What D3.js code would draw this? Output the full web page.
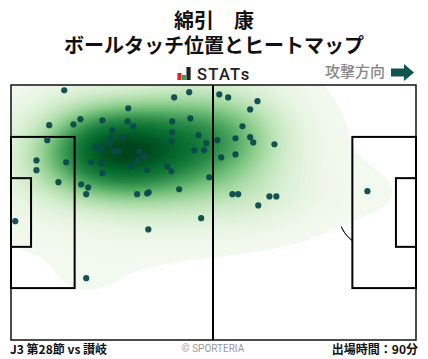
<!DOCTYPE html>
<html><head><meta charset="utf-8">
<script src="https://cdn.jsdelivr.net/npm/d3@7"></script>
<style>html,body{margin:0;padding:0;background:#fff}svg{display:block}text{font-family:"Noto Sans CJK JP",sans-serif}</style>
</head><body><div id="c"></div>
<script>
const touchX=[13.8,42.3,46.2,30.4,9.9,16.2,18.0,23.7,30.2,31.7,41.8,46.5,26.3,41.8,48.6,50.6,9.4,26.0,28.9,25.5,41.6,22.0,22.6,23.3,26.8,27.8,33.3,47.5,50.1,34.6,32.7,6.6,14.3,20.8,23.4,31.2,6.6,35.3,40.5,41.6,23.7,51.4,12.3,18.2,20.0,19.5,32.7,35.3,35.7,43.6,49.3,54.0,56.3,63.9,62.0,60.0,53.5,58.2,62.0,62.8,68.3,58.2,54.5,57.4,58.9,67.0,68.8,64.1,92.4,1.1,35.6,19.5];
const touchY=[1.4,3.3,1.9,6.2,10.7,10.5,9.1,9.4,9.7,11.0,9.7,8.9,12.1,12.6,13.4,15.5,14.7,14.1,13.9,15.5,15.0,16.3,16.9,16.9,17.7,17.7,17.7,17.4,17.4,19.3,20.3,20.1,20.6,20.6,20.9,21.7,22.7,22.7,21.7,23.0,23.5,24.6,25.9,26.5,27.3,29.1,29.1,28.9,28.6,27.8,35.5,2.5,3.3,4.3,6.5,11.0,14.7,14.2,13.9,15.3,15.8,18.5,19.3,29.1,29.1,29.7,29.7,32.1,28.3,36.3,38.5,51.5];
const titleLines=["綿引　康","ボールタッチ位置とヒートマップ"];
const statsBars=[{c:"#e8202a",h:7},{c:"#27a84a",h:5},{c:"#222",h:13}];
const attackLabel="攻撃方向", matchLabel="J3 第28節 vs 讃岐", creditLabel="© SPORTERIA", timeLabel="出場時間：90分";
const pitchLen=105,pitchWid=68,boxD=16.5,boxW=40.32,goalD=5.2,goalW=18.32,spot=11,circR=9.15;
const bwX=12,bwY=7.2,gridStep=0.5,nLevels=50,minLevel=0.04,colorGamma=1.3;

const W=428,H=359;
const svg=d3.select("#c").append("svg").attr("width",W).attr("height",H);
const x=d3.scaleLinear().domain([0,pitchLen]).range([11,416]);
const y=d3.scaleLinear().domain([0,pitchWid]).range([85,340]);

// title
svg.selectAll("text.t").data(titleLines).join("text").attr("class","t")
 .attr("x",214).attr("y",(d,i)=>28+i*25).attr("text-anchor","middle")
 .attr("font-size",20).attr("font-weight",700).attr("fill","#111").text(d=>d);

// STATs logo
const bx=d3.scaleBand().domain(d3.range(statsBars.length)).range([177,191]).padding(0.08);
svg.selectAll("rect.b").data(statsBars).join("rect").attr("class","b")
 .attr("x",(d,i)=>bx(i)).attr("width",bx.bandwidth()).attr("y",d=>80-d.h).attr("height",d=>d.h).attr("fill",d=>d.c);
svg.append("text").attr("x",197).attr("y",79.5).attr("font-size",16.5).attr("font-weight",500)
 .attr("letter-spacing",1.3).style("font-family","Roboto").attr("fill","#222").text("STATs");
svg.append("text").attr("x",325).attr("y",77).attr("font-size",15).attr("font-weight",500).attr("fill","#888").text(attackLabel);
svg.append("path").attr("fill","#11544c").attr("d",d3.line()([[391,68.5],[404,68.5],[404,64],[414,72.5],[404,81],[404,76.5],[391,76.5]])+"Z");

// thin markings (below the heat)
const g=svg.append("g");
svg.append("clipPath").attr("id","pc").append("rect")
 .attr("x",x(0)).attr("y",y(0)).attr("width",x(pitchLen)-x(0)).attr("height",y(pitchWid)-y(0));
const rad=x(circR)-x(0), sweep=Math.acos((boxD-spot)/circR);
[[spot,Math.PI/2-sweep,Math.PI/2+sweep],[pitchLen-spot,-Math.PI/2-sweep,-Math.PI/2+sweep],[pitchLen/2,0,2*Math.PI]].forEach(c=>{
 g.append("path").attr("transform",`translate(${x(c[0])},${y(pitchWid/2)})`)
  .attr("d",d3.arc()({innerRadius:rad,outerRadius:rad,startAngle:c[1],endAngle:c[2]}))
  .attr("fill","none").attr("stroke","#222").attr("stroke-width",1);
});

// density
const nx=Math.round(pitchLen/gridStep)+1,ny=Math.round(pitchWid/gridStep)+1;
const grid=new Float64Array(nx*ny);
touchX.forEach((px,k)=>{const py=touchY[k];
 for(let j=0;j<ny;j++){const dy=(j*gridStep-py)/bwY,ey=Math.exp(-0.5*dy*dy);
  for(let i=0;i<nx;i++){const dx=(i*gridStep-px)/bwX;grid[j*nx+i]+=ey*Math.exp(-0.5*dx*dx);}}
});
const gMax=d3.max(grid);
const levels=d3.range(nLevels).map(i=>gMax*(minLevel+(1-minLevel)*i/nLevels));
const ramp=d3.interpolateRgbBasis(["#f2f9ee","#d6eecf","#a4d99f","#5db56a","#238443","#006d2c","#00441b"]);
const color=t=>ramp(Math.pow(t,colorGamma));
const cs=d3.contours().size([nx,ny]).thresholds(levels)(Array.from(grid));
const proj=d3.geoTransform({point(a,b){this.stream.point(x((a-0.5)*gridStep),y((b-0.5)*gridStep));}});
const path=d3.geoPath(proj);
svg.append("g").attr("clip-path","url(#pc)").selectAll("path").data(cs).join("path")
 .attr("d",path).attr("fill",(d,i)=>color(i/(nLevels-1))).attr("stroke","none");

// pitch lines
const line=svg.append("g").attr("fill","none").attr("stroke","#000");
const rect=(x0,y0,x1,y1,sw)=>line.append("rect").attr("x",x(x0)).attr("y",y(y0)).attr("width",x(x1)-x(x0)).attr("height",y(y1)-y(y0)).attr("stroke-width",sw);
rect(0,0,pitchLen,pitchWid,1.4);
const mid=pitchWid/2;
rect(0,mid-boxW/2,boxD,mid+boxW/2,2);
rect(0,mid-goalW/2,goalD,mid+goalW/2,2);
rect(pitchLen-boxD,mid-boxW/2,pitchLen,mid+boxW/2,2);
rect(pitchLen-goalD,mid-goalW/2,pitchLen,mid+goalW/2,2);
line.append("line").attr("x1",x(pitchLen/2)-0.5).attr("x2",x(pitchLen/2)-0.5).attr("y1",y(0)).attr("y2",y(pitchWid)).attr("stroke-width",2);

// touches
svg.append("g").selectAll("circle").data(touchX).join("circle")
 .attr("cx",d=>x(d)).attr("cy",(d,i)=>y(touchY[i])).attr("r",3.1).attr("fill","#0b4a4c").attr("fill-opacity",.95);

// footer
svg.append("text").attr("x",10).attr("y",354).attr("font-size",12).attr("font-weight",700).attr("fill","#111").text(matchLabel);
svg.append("text").attr("x",213).attr("y",352).attr("text-anchor","middle").attr("font-size",10).style("font-family","Roboto").attr("fill","#999").text(creditLabel);
svg.append("text").attr("x",418).attr("y",354).attr("text-anchor","end").attr("font-size",12).attr("font-weight",700).attr("fill","#111").text(timeLabel);
</script></body></html>
